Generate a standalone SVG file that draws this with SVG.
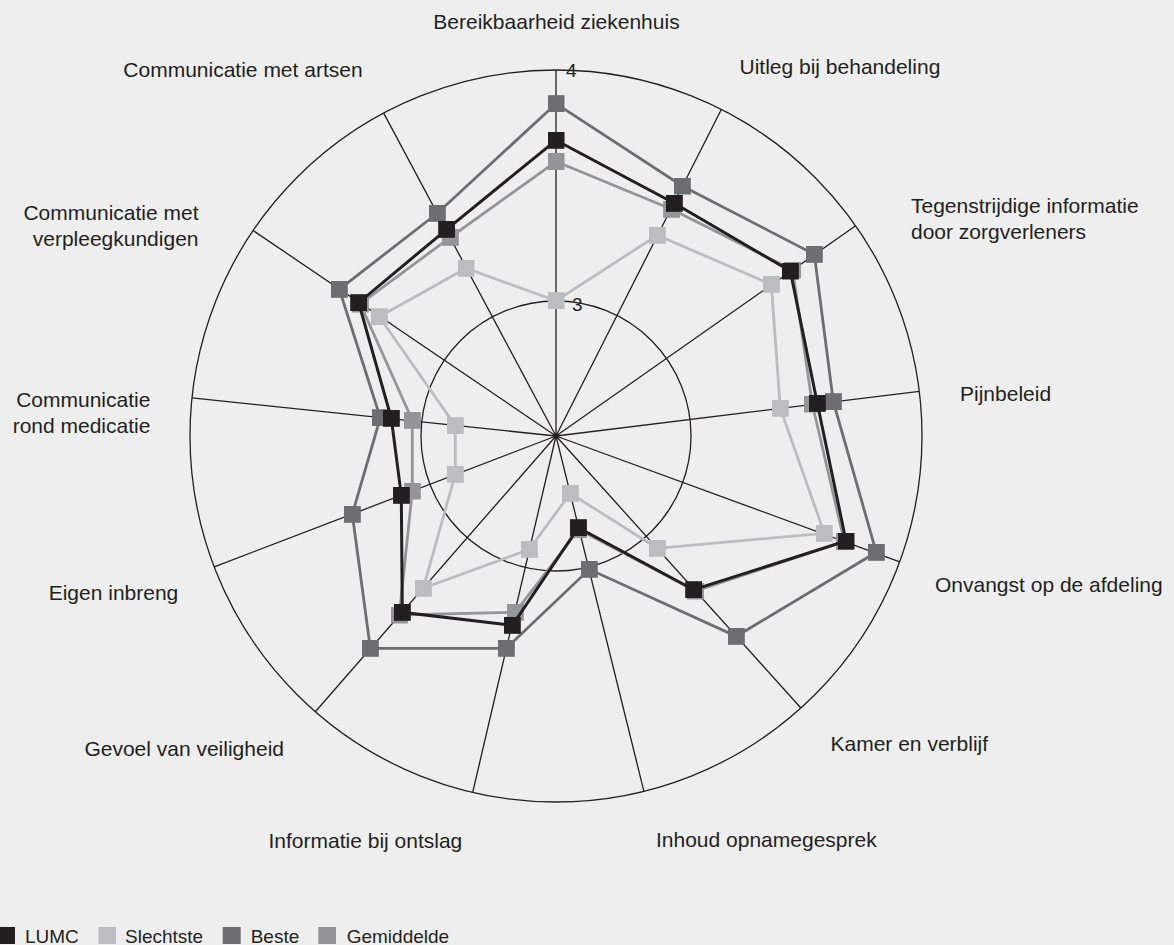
<svg xmlns="http://www.w3.org/2000/svg" width="1174" height="945" viewBox="0 0 1174 945">
<style>
.bg{fill:#eeeeee}
.grid{fill:none;stroke:#231f20;stroke-width:1.3}
.lbl{font-family:"Liberation Sans",Arial,sans-serif;font-size:21px;fill:#231f20}
.tick{font-family:"Liberation Sans",Arial,sans-serif;font-size:19px;fill:#231f20}
.leg{font-family:"Liberation Sans",Arial,sans-serif;font-size:19px;fill:#231f20}
.s{fill:none;stroke-width:2.8;stroke-linejoin:miter}
.sL{stroke:#231f20;stroke-width:3;marker-start:url(#mL);marker-mid:url(#mL)}
.sS{stroke:#bcbdc0;marker-start:url(#mS);marker-mid:url(#mS)}
.sB{stroke:#6d6e71;marker-start:url(#mB);marker-mid:url(#mB)}
.sG{stroke:#939598;marker-start:url(#mG);marker-mid:url(#mG)}
</style>
<defs>
<marker id="mL" markerWidth="17" markerHeight="17" refX="8.5" refY="8.5" markerUnits="userSpaceOnUse" orient="0"><rect width="17" height="17" fill="#231f20"/></marker>
<marker id="mS" markerWidth="17" markerHeight="17" refX="8.5" refY="8.5" markerUnits="userSpaceOnUse" orient="0"><rect width="17" height="17" fill="#bcbdc0"/></marker>
<marker id="mB" markerWidth="17" markerHeight="17" refX="8.5" refY="8.5" markerUnits="userSpaceOnUse" orient="0"><rect width="17" height="17" fill="#6d6e71"/></marker>
<marker id="mG" markerWidth="17" markerHeight="17" refX="8.5" refY="8.5" markerUnits="userSpaceOnUse" orient="0"><rect width="17" height="17" fill="#939598"/></marker>
</defs>
<rect class="bg" x="0" y="0" width="1174" height="945"/>
<g id="grid">
<circle class="grid" cx="556" cy="436" r="366"/>
<circle class="grid" cx="556" cy="436" r="135"/>
<path class="grid" d="M556 436L556 70M556 436L721.3 109.5M556 436L855.6 225.8M556 436L919.3 391.4M556 436L899.7 561.8M556 436L800.9 708M556 436L643.9 791.3M556 436L472.7 792.4M556 436L315.3 711.7M556 436L214.2 566.9M556 436L192 397.9M556 436L253.1 230.5M556 436L383.7 113.1"/>
<text class="tick" x="566" y="77">4</text>
<text class="tick" x="572" y="311">3</text>
</g>
<g id="series">
<polygon id="slechtste" class="s sS" points="556,300.7 657.3,235.3 771.3,284.3 780.3,408.3 824.3,533.3 657.3,548.3 570.3,493.3 529.3,549.3 423.3,588.3 455.3,474.3 455.3,425.7 379.3,316.7 466,268.3"/>
<polygon id="gemiddelde" class="s sG" points="556,161.5 671.7,209.3 792.6,270 812.3,404 844.3,541.5 695.5,591 578.8,529.5 515.3,612.3 399.3,615 412.3,491 412.3,420.3 360.3,304 450.3,237.3"/>
<polygon id="beste" class="s sB" points="556,103.7 682.3,186 814.3,254.3 833.3,401.7 876.3,552.3 736.3,636.3 589.3,569.3 506.3,648.3 370.3,648.3 352.3,514.3 380.3,417.7 339.3,289.3 437.3,213.3"/>
<polygon id="lumc" class="s sL" points="556,140.3 674.3,203.3 790.3,271 817.3,403.3 846,541 693.7,589.7 578.3,527.7 512.3,625.3 402.3,612.3 401.3,495.3 391.3,418.3 358.7,302.7 446.7,229.3"/>
</g>
<g id="labels">
<text class="lbl" x="556.5" y="29" text-anchor="middle">Bereikbaarheid ziekenhuis</text>
<text class="lbl" x="739.5" y="73.5">Uitleg bij behandeling</text>
<text class="lbl" x="911" y="213">Tegenstrijdige informatie</text>
<text class="lbl" x="911" y="239">door zorgverleners</text>
<text class="lbl" x="960" y="401">Pijnbeleid</text>
<text class="lbl" x="935" y="591.5">Onvangst op de afdeling</text>
<text class="lbl" x="830.5" y="750.5">Kamer en verblijf</text>
<text class="lbl" x="656" y="847.3">Inhoud opnamegesprek</text>
<text class="lbl" x="462.3" y="848" text-anchor="end">Informatie bij ontslag</text>
<text class="lbl" x="284" y="756" text-anchor="end">Gevoel van veiligheid</text>
<text class="lbl" x="178.3" y="600" text-anchor="end">Eigen inbreng</text>
<text class="lbl" x="150.4" y="407.3" text-anchor="end">Communicatie</text>
<text class="lbl" x="150.4" y="432.7" text-anchor="end">rond medicatie</text>
<text class="lbl" x="198.5" y="220" text-anchor="end">Communicatie met</text>
<text class="lbl" x="198.5" y="245.7" text-anchor="end">verpleegkundigen</text>
<text class="lbl" x="362.6" y="77.3" text-anchor="end">Communicatie met artsen</text>
</g>
<g id="legend">
<rect x="-2" y="927" width="17" height="17" fill="#231f20"/>
<text class="leg" x="25" y="943.3">LUMC</text>
<rect x="98.5" y="927" width="17.5" height="17" fill="#bcbdc0"/>
<text class="leg" x="125" y="943.3">Slechtste</text>
<rect x="222.7" y="927" width="18" height="17" fill="#6d6e71"/>
<text class="leg" x="250.7" y="943.3">Beste</text>
<rect x="318.3" y="927" width="17.7" height="17" fill="#939598"/>
<text class="leg" x="346.7" y="943.3">Gemiddelde</text>
</g>
</svg>
